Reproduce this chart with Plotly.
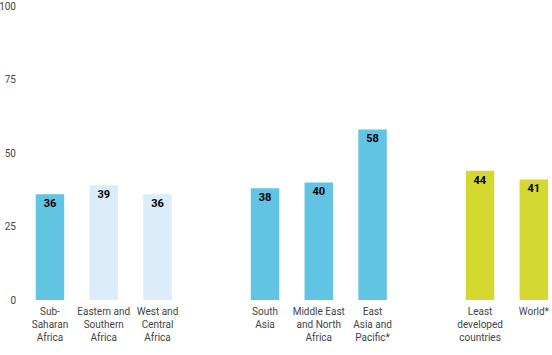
import plotly.graph_objects as go

categories = ["Sub-<br>Saharan<br>Africa", "Eastern and<br>Southern<br>Africa", "West and<br>Central<br>Africa",
              "South<br>Asia", "Middle East<br>and North<br>Africa", "East<br>Asia and<br>Pacific*",
              "Least<br>developed<br>countries", "World*"]
values = [36, 39, 36, 38, 40, 58, 44, 41]
slots = [0, 1, 2, 4, 5, 6, 8, 9]
colors = ["#62C4E3", "#DDECF9", "#DDECF9", "#62C4E3", "#62C4E3", "#62C4E3", "#D6D832", "#D6D832"]
y_ticks = [0, 25, 50, 75, 100]

FONT = "Roboto, sans-serif"

fig = go.Figure(go.Bar(
    x=slots, y=values, width=0.53,
    marker=dict(color=colors, line=dict(width=0)),
    text=[str(v) for v in values], textposition="inside", insidetextanchor="end",
    textangle=0,
    textfont=dict(family=FONT, size=11, color="#000000", weight="bold"),
    cliponaxis=False,
    hoverinfo="skip",
))

fig.update_layout(
    width=552, height=355,
    margin=dict(l=26, r=0, t=6, b=55, autoexpand=False),
    paper_bgcolor="white", plot_bgcolor="white",
    showlegend=False,
    font=dict(family=FONT, size=10, color="#444444"),
    xaxis=dict(range=[-0.446, 9.338], tickvals=slots, ticktext=categories,
               showgrid=False, zeroline=False, showline=False, ticks="",
               automargin=False, ticklabeloverflow="allow", ticklabelstandoff=4,
               tickfont=dict(size=10, color="#444444"), tickangle=0),
    yaxis=dict(range=[0, 100], tickvals=y_ticks, showgrid=False, zeroline=False,
               showline=False, ticks="", ticklabelstandoff=9, automargin=False,
               ticklabeloverflow="allow",
               tickfont=dict(size=10, color="#444444")),
)

fig.write_html("out.html", config={"displayModeBar": False},
               post_script="document.body.style.margin='0';")
